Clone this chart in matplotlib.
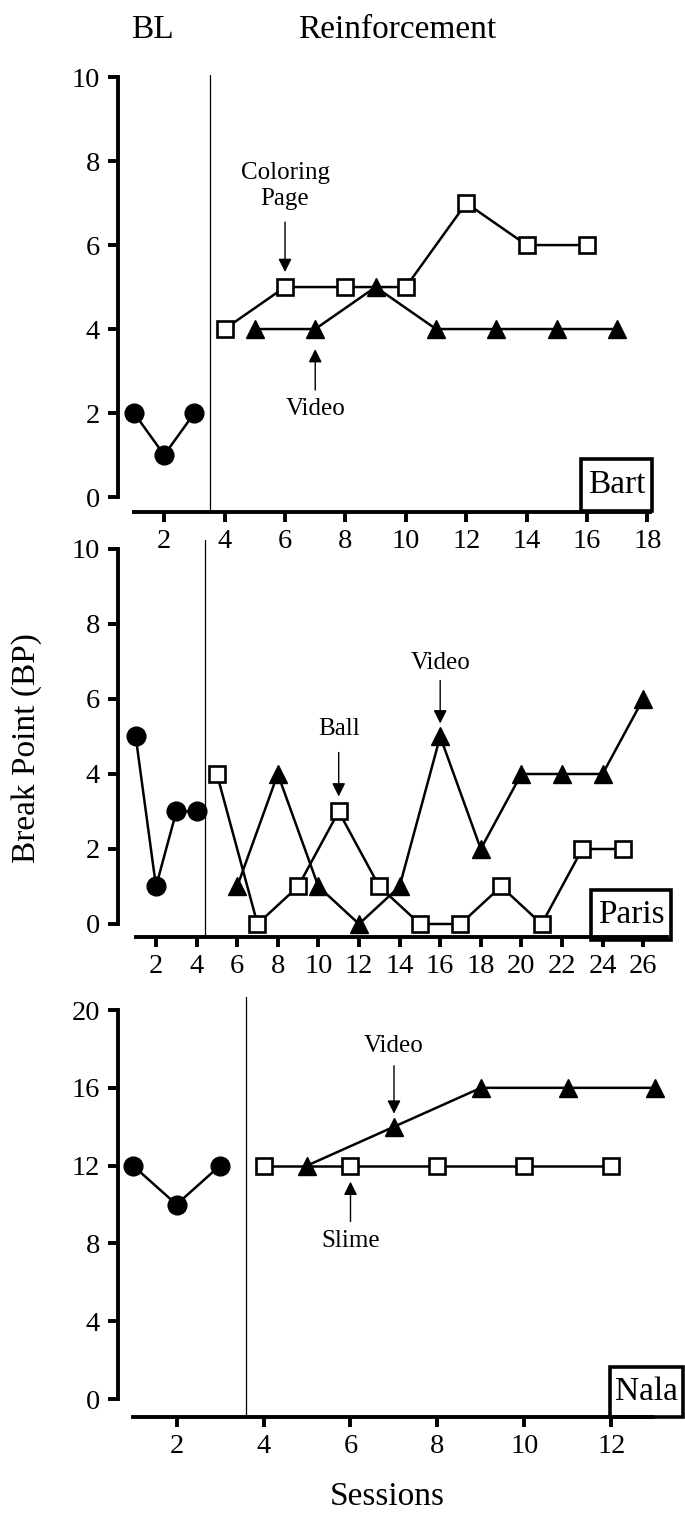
import matplotlib
matplotlib.use('Agg')
import matplotlib.pyplot as plt
from matplotlib.patches import Rectangle

plt.rcParams['font.family'] = ['Liberation Serif', 'DejaVu Serif']

# ---------------- data ----------------
bart_bl_x = [1, 2, 3]
bart_bl_y = [2, 1, 2]
bart_sq_x = [4, 6, 8, 10, 12, 14, 16]
bart_sq_y = [4, 5, 5, 5, 7, 6, 6]
bart_tri_x = [5, 7, 9, 11, 13, 15, 17]
bart_tri_y = [4, 4, 5, 4, 4, 4, 4]

paris_bl_x = [1, 2, 3, 4]
paris_bl_y = [5, 1, 3, 3]
paris_sq_x = [5, 7, 9, 11, 13, 15, 17, 19, 21, 23, 25]
paris_sq_y = [4, 0, 1, 3, 1, 0, 0, 1, 0, 2, 2]
paris_tri_x = [6, 8, 10, 12, 14, 16, 18, 20, 22, 24, 26]
paris_tri_y = [1, 4, 1, 0, 1, 5, 2, 4, 4, 4, 6]

nala_bl_x = [1, 2, 3]
nala_bl_y = [12, 10, 12]
nala_sq_x = [4, 6, 8, 10, 12]
nala_sq_y = [12, 12, 12, 12, 12]
nala_tri_x = [5, 7, 9, 11, 13]
nala_tri_y = [12, 14, 16, 16, 16]

names = ['Bart', 'Paris', 'Nala']
phase_x = [3.5, 4.4, 3.6]
x_ticks = [list(range(2, 19, 2)), list(range(2, 27, 2)), list(range(2, 13, 2))]
y_ticks = [list(range(0, 11, 2)), list(range(0, 11, 2)), list(range(0, 21, 4))]

# ---------------- layout (pixels) ----------------
W, H = 685, 1519
fig = plt.figure(figsize=(W / 100, H / 100), dpi=100)


def axes_px(left, right, top, bottom):
    return [left / W, (H - bottom) / H, (right - left) / W, (bottom - top) / H]


def fig_pt(x, y):
    return x / W, 1 - y / H


panels = [
    dict(rect=axes_px(118, 655, 75, 512), xlim=(0.47, 18.25), ylim=(-0.357, 10.05), xend=18.09,
         bl=(bart_bl_x, bart_bl_y), sq=(bart_sq_x, bart_sq_y), tri=(bart_tri_x, bart_tri_y),
         box=(581, 459, 652, 511)),
    dict(rect=axes_px(118, 672, 540, 937), xlim=(0.128, 27.42), ylim=(-0.347, 10.24), xend=27.17,
         bl=(paris_bl_x, paris_bl_y), sq=(paris_sq_x, paris_sq_y), tri=(paris_tri_x, paris_tri_y),
         box=(591, 890, 671, 940)),
    dict(rect=axes_px(118, 685, 997, 1417), xlim=(0.655, 13.69), ylim=(-0.925, 20.67), xend=12.95,
         bl=(nala_bl_x, nala_bl_y), sq=(nala_sq_x, nala_sq_y), tri=(nala_tri_x, nala_tri_y),
         box=(610, 1367, 683, 1417)),
]

LW = 1.8
axes = []
for i, p in enumerate(panels):
    ax = fig.add_axes(p['rect'])
    axes.append(ax)
    ax.set_xlim(*p['xlim'])
    ax.set_ylim(*p['ylim'])
    ax.axvline(phase_x[i], color='black', lw=0.9, zorder=1)
    ax.plot(*p['bl'], color='black', lw=LW, marker='o', ms=13.5, mfc='black', mec='black', zorder=3,
            clip_on=False)
    ax.plot(*p['sq'], color='black', lw=LW, marker='s', ms=11.8, mfc='white', mec='black', mew=1.9,
            zorder=3, clip_on=False)
    ax.plot(*p['tri'], color='black', lw=LW, marker='^', ms=13, mfc='black', mec='black', zorder=4,
            clip_on=False)
    for s in ['top', 'right']:
        ax.spines[s].set_visible(False)
    for s in ['left', 'bottom']:
        ax.spines[s].set_linewidth(2.8)
    ax.spines['left'].set_bounds(y_ticks[i][0], y_ticks[i][-1])
    ax.spines['bottom'].set_bounds(1, p['xend'])
    ax.set_xticks(x_ticks[i])
    ax.set_yticks(y_ticks[i])
    ax.tick_params(axis='both', direction='out', length=7, width=2.8, labelsize=20.5)
    ax.tick_params(axis='x', pad=5)
    ax.tick_params(axis='y', pad=6)
    ax.patch.set_visible(False)

    bx0, by0, bx1, by1 = p['box']
    x0, y0 = fig_pt(bx0, by1)
    x1, y1 = fig_pt(bx1, by0)
    fig.add_artist(Rectangle((x0, y0), x1 - x0, y1 - y0, transform=fig.transFigure,
                             fc='none', ec='black', lw=2.6, zorder=5))
    fig.text((x0 + x1) / 2, (y0 + y1) / 2, names[i], ha='center', va='center',
             fontsize=24, zorder=6)

# ---------------- annotations ----------------
AS = dict(arrowstyle='-|>,head_length=0.4,head_width=0.2', color='black', lw=1.0,
          mutation_scale=20, shrinkA=0)


def arrow_note(ax, x, y, text, tip_px, tail_px, text_px):
    k = 0.72  # px -> points at 100 dpi
    props = dict(AS)
    props['shrinkB'] = abs(tip_px) * k
    ax.annotate('', xy=(x, y), xytext=(0, tail_px * k), textcoords='offset points',
                arrowprops=props, annotation_clip=False)
    ax.annotate(text, xy=(x, y), xytext=(0, text_px * k), textcoords='offset points',
                ha='center', va='center', fontsize=18, linespacing=1.25, annotation_clip=False)


arrow_note(axes[0], bart_sq_x[1], bart_sq_y[1], 'Coloring\nPage', 15, 65, 101)
arrow_note(axes[0], bart_tri_x[1], bart_tri_y[1], 'Video', -20, -61, -80)
arrow_note(axes[1], paris_sq_x[3], paris_sq_y[3], 'Ball', 15, 59, 82)
arrow_note(axes[1], paris_tri_x[5], paris_tri_y[5], 'Video', 13, 56, 73)
arrow_note(axes[2], nala_tri_x[1], nala_tri_y[1], 'Video', 13, 61, 81)
arrow_note(axes[2], nala_sq_x[1], nala_sq_y[1], 'Slime', -16, -56, -75)

# ---------------- figure texts ----------------
fig.text(*fig_pt(152, 30), 'BL', ha='center', va='center', fontsize=24)
fig.text(*fig_pt(397, 30), 'Reinforcement', ha='center', va='center', fontsize=24)
fig.text(*fig_pt(27, 748), 'Break Point (BP)', ha='center', va='center', rotation=90, fontsize=24)
fig.text(*fig_pt(387, 1497), 'Sessions', ha='center', va='center', fontsize=24)

fig.savefig('out.png', dpi=100)
